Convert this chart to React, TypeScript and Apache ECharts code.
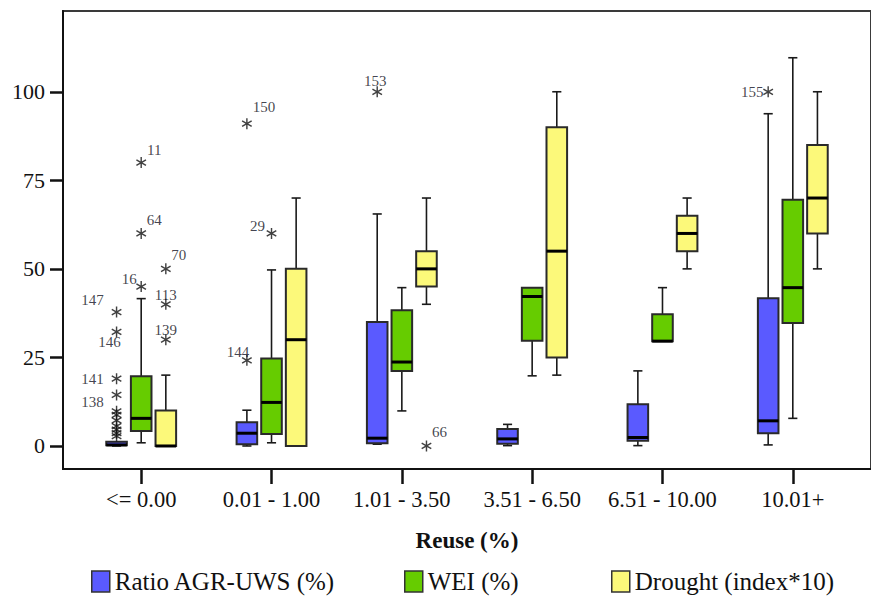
import React, { useEffect, useRef } from "react";
import * as echarts from "echarts";

// ---------- data ----------
const categories = ["<= 0.00", "0.01 - 1.00", "1.01 - 3.50", "3.51 - 6.50", "6.51 - 10.00", "10.01+"];
const yTickValues = [0, 25, 50, 75, 100];
const seriesNames = ["Ratio AGR-UWS (%)", "WEI (%)", "Drought (index*10)"];

// [min, Q1, median, Q3, max] per category
const ratioBoxes = [
  [0, 0.2, 0.3, 1.2, 1.2],
  [0, 0.5, 3.6, 6.7, 10.1],
  [0.5, 0.8, 2.2, 35, 65.5],
  [0.1, 0.6, 2.0, 4.8, 6.1],
  [0.1, 1.5, 2.4, 11.8, 21.2],
  [0.3, 3.6, 7.1, 41.7, 93.8],
];
const weiBoxes = [
  [0.9, 4.2, 7.8, 19.7, 41.6],
  [0.9, 3.4, 12.3, 24.7, 49.7],
  [9.9, 21.2, 23.7, 38.3, 44.7],
  [19.8, 29.7, 42.2, 44.7, 44.7],
  [29.6, 29.6, 29.6, 37.2, 44.7],
  [7.8, 34.7, 44.7, 69.5, 109.6],
];
const droughtBoxes = [
  [0, 0, 0, 10, 20],
  [0, 0, 30, 50, 70],
  [40, 45, 50, 55, 70],
  [20, 25, 55, 90, 100],
  [50, 55, 60, 65, 70],
  [50, 60, 70, 85, 100],
];

// outliers: [categoryIndex, value, case label]
const ratioOutliers: [number, number, string][] = [
  [0, 37.8, "147"],
  [0, 32.2, "146"],
  [0, 19.0, "141"],
  [0, 14.4, "138"],
  [0, 9.8, ""],
  [0, 8.8, ""],
  [0, 7.2, ""],
  [0, 5.6, ""],
  [0, 4.6, ""],
  [0, 3.6, ""],
  [0, 2.8, ""],
  [1, 91, "150"],
  [1, 24.2, "144"],
  [2, 100, "153"],
  [5, 100, "155"],
];
const weiOutliers: [number, number, string][] = [
  [0, 80, "11"],
  [0, 60, "64"],
  [0, 45, "16"],
  [1, 60, "29"],
];
const droughtOutliers: [number, number, string][] = [
  [0, 50, "70"],
  [0, 40, "113"],
  [0, 30, "139"],
  [2, 0, "66"],
];

// ---------- styles ----------
const colors = ["#5a5aff", "#66cc00", "#fcf97a"];
const offsets = [-0.189, 0, 0.189];
const labelOffsets: Record<string, [number, number]> = {
  "147": [-24, -12],
  "146": [-7, 10],
  "141": [-24, 0],
  "138": [-24, 7],
  "150": [17, -17],
  "144": [-9, -8],
  "153": [-2, -11],
  "155": [-16, 0],
  "11": [13, -13],
  "64": [13, -13],
  "16": [-12, -8],
  "29": [-14, -7],
  "70": [13, -14],
  "113": [0, -9],
  "139": [0, -10],
  "66": [13, -14],
};
const FONT = "Liberation Serif";
const STAR =
  "path://M8.7 0 L11.3 0 L11.3 20 L8.7 20 Z M0.65 6.13 L1.95 3.87 L19.35 13.87 L18.05 16.13 Z M18.05 3.87 L19.35 6.13 L1.95 16.13 L0.65 13.87 Z";

function makeRender(offset: number) {
  return (params: any, api: any) => {
    const i = api.value(0);
    const mn = api.value(1);
    const q1 = api.value(2);
    const med = api.value(3);
    const q3 = api.value(4);
    const mx = api.value(5);
    const xc = i + offset;
    const hw = 0.079;
    const cw = 0.035;
    const p = (x: number, y: number) => api.coord([x, y]);
    const stroke = { stroke: "#1a1a1a", lineWidth: 1.6 };
    const children: any[] = [];
    const line = (a: number[], b: number[], style: any) =>
      children.push({ type: "line", shape: { x1: a[0], y1: a[1], x2: b[0], y2: b[1] }, style });
    if (mx > q3) {
      line(p(xc, mx), p(xc, q3), stroke);
      line(p(xc - cw, mx), p(xc + cw, mx), stroke);
    }
    if (mn < q1) {
      line(p(xc, q1), p(xc, mn), stroke);
      line(p(xc - cw, mn), p(xc + cw, mn), stroke);
    }
    const tl = p(xc - hw, q3);
    const br = p(xc + hw, q1);
    children.push({
      type: "rect",
      shape: { x: tl[0], y: tl[1], width: br[0] - tl[0], height: Math.max(br[1] - tl[1], 1) },
      style: { fill: api.visual("color"), stroke: "#2a2a2a", lineWidth: 2 },
    });
    line(p(xc - hw, med), p(xc + hw, med), { stroke: "#000", lineWidth: 3 });
    return { type: "group", children };
  };
}

function outlierSeries(list: [number, number, string][], offset: number, name: string) {
  return {
    type: "scatter",
    name,
    symbol: STAR,
    symbolSize: 11,
    symbolKeepAspect: true,
    itemStyle: { color: "#111" },
    silent: true,
    z: 5,
    label: {
      show: true,
      position: "inside",
      formatter: "{b}",
      fontFamily: FONT,
      fontSize: 15,
      color: "#111122",
    },
    data: list.map(([c, v, id]) => ({
      value: [c + offset, v],
      name: id,
      label: id ? { show: true, offset: labelOffsets[id] || [0, -12] } : { show: false },
    })),
  };
}

export default function App() {
  const ref = useRef<HTMLDivElement>(null);
  useEffect(() => {
    document.body.style.margin = "0";
    const chart = echarts.init(ref.current!, null, { renderer: "svg" });
    const boxSets = [ratioBoxes, weiBoxes, droughtBoxes];
    const outSets = [ratioOutliers, weiOutliers, droughtOutliers];
    const series: any[] = [];
    boxSets.forEach((boxes, k) => {
      series.push({
        type: "custom",
        name: seriesNames[k],
        itemStyle: { color: colors[k], borderColor: "#2a2a2a", borderWidth: 1.5 },
        renderItem: makeRender(offsets[k]),
        encode: { x: 0, y: [1, 2, 3, 4, 5] },
        data: boxes.map((b, i) => [i, ...b]),
        silent: true,
        z: 2,
      });
    });
    outSets.forEach((o, k) => series.push(outlierSeries(o, offsets[k], "out" + k)));

    const legendLefts = [91, 404, 611];
    chart.setOption({
      animation: false,
      backgroundColor: "#fff",
      textStyle: { fontFamily: FONT },
      grid: {
        left: 63,
        top: 11,
        right: -13,
        bottom: 127,
        show: true,
        borderColor: "#3a3a3a",
        borderWidth: 2,
        backgroundColor: "transparent",
      },
      legend: seriesNames.map((n, k) => ({
        data: [n],
        left: legendLefts[k],
        top: 569,
        padding: 0,
        icon: "rect",
        itemWidth: 18,
        itemHeight: 21,
        itemStyle: { borderColor: "#333", borderWidth: 1.5 },
        textStyle: { fontFamily: FONT, fontSize: 25, color: "#111" },
        selectedMode: false,
      })),
      xAxis: {
        type: "value",
        min: -0.6,
        max: 5.6,
        name: "Reuse (%)",
        nameLocation: "middle",
        nameGap: 60,
        nameTextStyle: { fontFamily: FONT, fontSize: 23, fontWeight: "bold", color: "#111" },
        axisLine: { show: true, onZero: false, lineStyle: { color: "#111", width: 2 } },
        axisTick: { show: true, length: 15, lineStyle: { color: "#111", width: 2.5 }, customValues: [0, 1, 2, 3, 4, 5] },
        axisLabel: {
          customValues: [0, 1, 2, 3, 4, 5],
          formatter: (v: number) => categories[Math.round(v)] ?? "",
          fontFamily: FONT,
          fontSize: 22.5,
          color: "#111",
          margin: 19,
        },
        splitLine: { show: false },
      },
      yAxis: {
        type: "value",
        min: -6.5,
        max: 122.8,
        axisLine: { show: true, onZero: false, lineStyle: { color: "#111", width: 2 } },
        axisTick: { show: true, length: 13, lineStyle: { color: "#111", width: 2.5 }, customValues: yTickValues },
        axisLabel: {
          customValues: yTickValues,
          fontFamily: FONT,
          fontSize: 22,
          color: "#111",
          margin: 18,
        },
        splitLine: { show: false },
      },
      series,
    });
    return () => chart.dispose();
  }, []);
  return <div ref={ref} style={{ width: 871, height: 596 }} />;
}
